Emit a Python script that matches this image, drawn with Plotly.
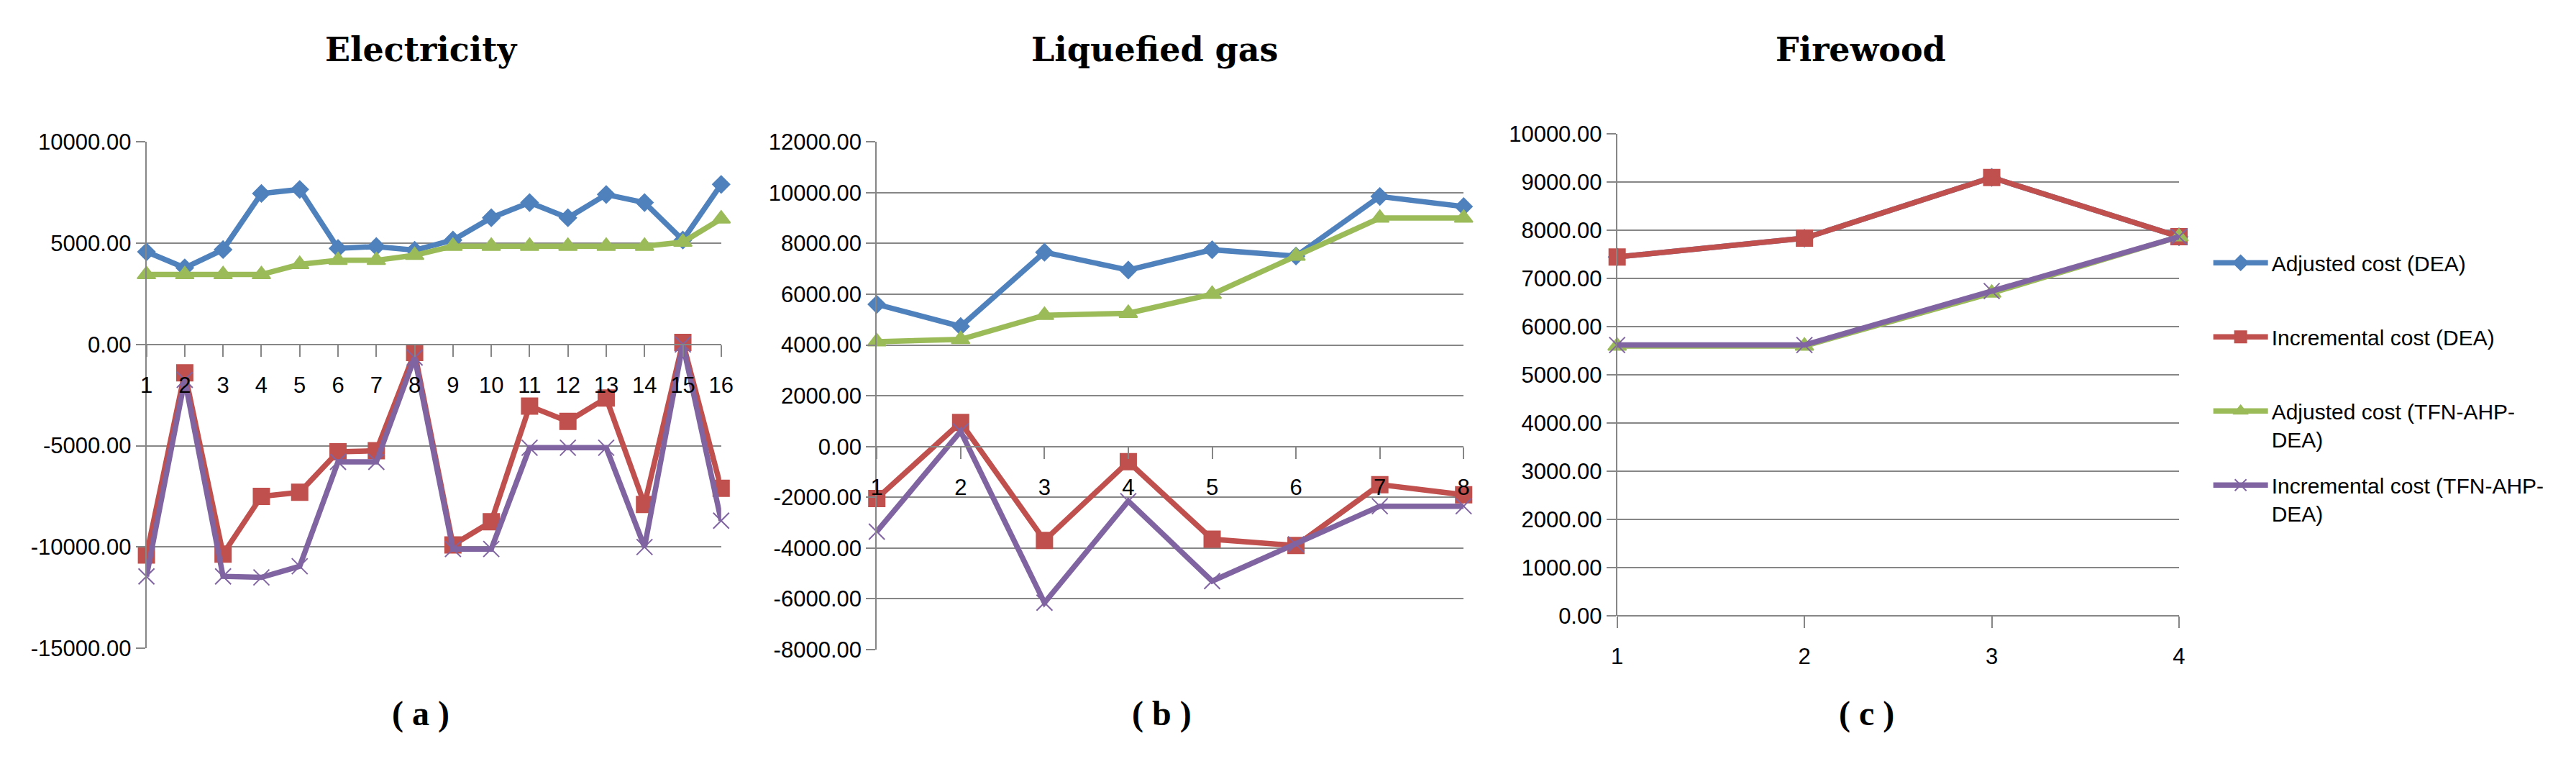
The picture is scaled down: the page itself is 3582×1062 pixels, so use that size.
import plotly.graph_objects as go

W, H = 3582, 1062

# ---- data ----
series_names = [
    "Adjusted cost (DEA)",
    "Incremental cost (DEA)",
    "Adjusted cost (TFN-AHP-DEA)",
    "Incremental cost (TFN-AHP-DEA)",
]

elec_x = list(range(1, 17))
elec_adj_dea = [4570, 3780, 4680, 7450, 7650, 4740, 4830, 4650, 5150, 6250, 7000, 6250, 7400, 7000, 5150, 7900]
elec_inc_dea = [-10400, -1400, -10350, -7500, -7300, -5300, -5250, -400, -9900, -8750, -3050, -3800, -2650, -7900, 100, -7100]
elec_adj_tfn = [3450, 3450, 3450, 3450, 3950, 4150, 4150, 4400, 4850, 4850, 4850, 4850, 4850, 4850, 5050, 6200]
elec_inc_tfn = [-11450, -1750, -11450, -11500, -10950, -5800, -5800, -650, -10100, -10100, -5100, -5100, -5100, -10000, 0, -8700]

gas_x = list(range(1, 9))
gas_adj_dea = [5600, 4730, 7650, 6950, 7750, 7500, 9850, 9450]
gas_inc_dea = [-2050, 950, -3700, -600, -3650, -3900, -1500, -1900]
gas_adj_tfn = [4130, 4220, 5170, 5250, 6000, 7500, 9000, 9000]
gas_inc_tfn = [-3350, 600, -6150, -2150, -5300, -3850, -2350, -2350]

wood_x = list(range(1, 5))
wood_adj_dea = [7450, 7840, 9100, 7870]
wood_inc_dea = [7450, 7840, 9100, 7870]
wood_adj_tfn = [5600, 5600, 6700, 7870]
wood_inc_tfn = [5620, 5620, 6740, 7870]

elec_yticks = [-15000, -10000, -5000, 0, 5000, 10000]
gas_yticks = [-8000, -6000, -4000, -2000, 0, 2000, 4000, 6000, 8000, 10000, 12000]
wood_yticks = [0, 1000, 2000, 3000, 4000, 5000, 6000, 7000, 8000, 9000, 10000]

titles = ["Electricity", "Liquefied gas", "Firewood"]
captions = ["( a )", "( b )", "( c )"]

# ---- style ----
colors = ["#4F81BD", "#C0504D", "#9BBB59", "#8064A2"]
symbols = ["diamond", "square", "triangle-up", "x-thin"]
msizes = [18, 22, 22, 22]
grid = "#868686"
tick_font = dict(family="Liberation Sans, Arial", size=31, color="black")


def px_x(p):
    return p / W


def px_y(p):
    return 1 - p / H


# plot areas in pixels: (left, right, top, bottom)
panels = [
    dict(box=(188, 993, 178, 906), rng=(-15000, 10000), ticks=elec_yticks,
         x=elec_x, ys=[elec_adj_dea, elec_inc_dea, elec_adj_tfn, elec_inc_tfn]),
    dict(box=(1211, 2033, 178, 908), rng=(-8000, 12000), ticks=gas_yticks,
         x=gas_x, ys=[gas_adj_dea, gas_inc_dea, gas_adj_tfn, gas_inc_tfn]),
    dict(box=(2248, 3035, 167, 859), rng=(0, 10000), ticks=wood_yticks,
         x=wood_x, ys=[wood_adj_dea, wood_inc_dea, wood_adj_tfn, wood_inc_tfn]),
]
title_x = [573, 1600, 2589]
caption_x = [572, 1610, 2597]

fig = go.Figure()
layout = {}
for i, p in enumerate(panels):
    n = "" if i == 0 else str(i + 1)
    left, right, top, bottom = p["box"]
    ydom = [px_y(bottom), px_y(top)]
    y0, y1 = p["rng"]
    # x axis crosses the value axis at zero, like the original chart
    xpos = ydom[0] + (0 - y0) / (y1 - y0) * (ydom[1] - ydom[0])

    for k in range(4):
        is_legend = i == 2
        name = series_names[k]
        label = name.replace("(TFN-AHP-DEA)", "(TFN-AHP-<br>DEA)")
        if "<br>" not in label:
            label = label + "<br>\u00a0"
        fig.add_trace(go.Scatter(
            x=p["x"], y=p["ys"][k],
            xaxis="x" + n, yaxis="y" + n,
            mode="lines+markers",
            name=label,
            legendgroup=name,
            showlegend=is_legend,
            cliponaxis=False,
            line=dict(color=colors[k], width=7.5),
            marker=dict(symbol=symbols[k], size=msizes[k], color=colors[k],
                        line=dict(color=colors[k], width=2)),
        ))

    layout["xaxis" + n] = dict(
        domain=[px_x(left), px_x(right)],
        anchor="free", position=xpos,
        range=[p["x"][0], p["x"][-1]],
        tickvals=p["x"], ticktext=[str(v) for v in p["x"]],
        showgrid=False, zeroline=False,
        showline=True, linecolor=grid, linewidth=2,
        ticks="outside", ticklen=16, tickwidth=2, tickcolor=grid,
        ticklabelstandoff=13,
        tickfont=tick_font,
    )
    layout["yaxis" + n] = dict(
        domain=ydom,
        anchor="x" + n,
        range=[y0, y1],
        tickvals=p["ticks"], ticktext=[f"{v:.2f}" for v in p["ticks"]],
        showgrid=True, gridcolor=grid, gridwidth=2,
        zeroline=False,
        showline=True, linecolor=grid, linewidth=2,
        ticks="outside", ticklen=13, tickwidth=2, tickcolor=grid,
        tickfont=tick_font,
    )

annotations = []
for i in range(3):
    annotations.append(dict(
        text=titles[i], x=px_x(title_x[i]), y=px_y(46), xref="paper", yref="paper",
        showarrow=False, xanchor="center", yanchor="middle",
        font=dict(family="DejaVu Serif", size=46, color="black", weight="bold"),
    ))
    annotations.append(dict(
        text=captions[i], x=px_x(caption_x[i]), y=px_y(1000), xref="paper", yref="paper",
        showarrow=False, xanchor="center", yanchor="middle",
        font=dict(family="Liberation Serif", size=48, color="black", weight="bold"),
    ))

fig.update_layout(
    **layout,
    annotations=annotations,
    width=W, height=H,
    margin=dict(l=0, r=0, t=0, b=0),
    paper_bgcolor="white",
    plot_bgcolor="white",
    showlegend=True,
    legend=dict(
        x=px_x(3078), y=px_y(325), xanchor="left", yanchor="top",
        font=dict(family="Liberation Sans, Arial", size=30, color="black"),
        valign="top", tracegroupgap=22, itemwidth=76,
        bgcolor="rgba(0,0,0,0)",
    ),
)

fig.write_html("out.html")
